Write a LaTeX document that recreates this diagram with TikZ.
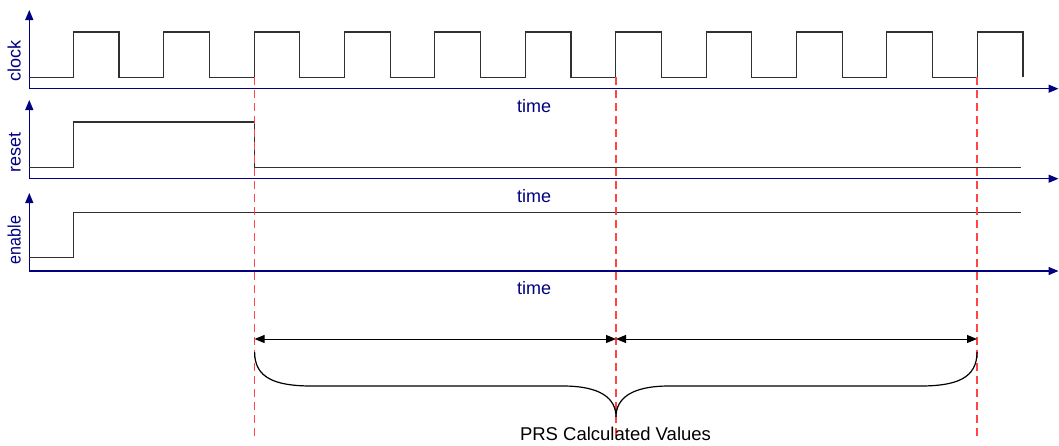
\documentclass[tikz,border=0pt]{standalone}
\usepackage{fontspec}
\setmainfont{Liberation Sans}
\usetikzlibrary{arrows.meta}
\definecolor{axisblue}{HTML}{000080}
\definecolor{guidered}{HTML}{FF4545}
\definecolor{sig}{HTML}{303030}
\tikzset{
  axisline/.style={draw=axisblue, line width=1.3pt, -{Triangle[length=10pt,width=8pt]}},
  signal/.style={draw=sig, line width=1.1pt},
  guide/.style={draw=guidered, line width=1.1pt, dash pattern=on 8pt off 5pt},
  dimarrow/.style={draw=black, line width=1pt, {Triangle[length=10pt,width=8pt]}-{Triangle[length=10pt,width=8pt]}},
  bracepath/.style={draw=black, line width=1.2pt},
  axlabel/.style={font=\fontsize{18}{20}\selectfont, text=axisblue, inner sep=0pt},
  sigtext/.style={font=\fontsize{18}{20}\selectfont, text=axisblue, inner sep=0pt, rotate=90, anchor=base},
  plaintext/.style={font=\fontsize{18.5}{20}\selectfont, text=black, inner sep=0pt, anchor=base}
}
\begin{document}
\begin{tikzpicture}[x=1pt,y=-1pt]
\useasboundingbox (0,0) rectangle (1059,445);
% axes origins and ends
\coordinate (c0) at (29.3,88.7);  \coordinate (ctop) at (29.3,10);  \coordinate (cend) at (1058.5,88.7);
\coordinate (r0) at (29.3,178.7); \coordinate (rtop) at (29.3,100); \coordinate (rend) at (1058.5,178.7);
\coordinate (e0) at (29.3,271);   \coordinate (etop) at (29.3,193); \coordinate (eend) at (1058.5,271);
% axes
\draw[axisline] (c0) -- (ctop);
\draw[axisline] (c0) -- (cend);
\draw[axisline] (r0) -- (rtop);
\draw[axisline] (r0) -- (rend);
\draw[axisline] (e0) -- (etop);
\draw[axisline] (e0) -- (eend);
% axis labels
\node[sigtext] (lclock) at (20.7,61) {clock};
\node[sigtext] (lreset) at (20.7,152) {reset};
\node[sigtext, xscale=0.89] (lenable) at (20.7,240) {enable};
\node[axlabel, anchor=base] (tclock) at (534,112) {time};
\node[axlabel, anchor=base] (treset) at (534,202) {time};
\node[axlabel, anchor=base] (tenable) at (534,294.5) {time};
% clock waveform
\draw[signal] (29.3,77.3)
  \foreach \k in {0,...,10} {
    -- ({73.3+90.4*\k},77.3) -- ({73.3+90.4*\k},32) -- ({119+90.4*\k},32) -- ({119+90.4*\k},77.3)
  };
% reset waveform
\draw[signal] (29.3,167.3) -- (73.3,167.3) -- (73.3,122) -- (254.6,122) -- (254.6,167.3) -- (1021,167.3);
% enable waveform
\draw[signal] (29.3,257.7) -- (73.3,257.7) -- (73.3,212.7) -- (1021,212.7);
% guide lines
\coordinate (g1t) at (254.6,77.3); \coordinate (g1b) at (254.6,440);
\coordinate (g2t) at (616,77.3);   \coordinate (g2b) at (616,440);
\coordinate (g3t) at (977,77.3);   \coordinate (g3b) at (977,440);
\draw[guide] (g1t) -- (g1b);
\draw[guide] (g2t) -- (g2b);
\draw[guide] (g3t) -- (g3b);
% dimension arrows
\coordinate (a1) at (254.6,339); \coordinate (a2) at (616,339); \coordinate (a3) at (977,339);
\draw[dimarrow] (a1) -- (a2);
\draw[dimarrow] (a2) -- (a3);
% brace
\coordinate (bl) at (254.6,352); \coordinate (bm) at (616,417); \coordinate (br) at (977,352);
\draw[bracepath] (bl) .. controls (254.6,378) and (275,386) .. (312,386)
  -- (563,386) .. controls (600,386) and (616,398) .. (bm)
  .. controls (616,398) and (632,386) .. (669,386)
  -- (920,386) .. controls (957,386) and (977,378) .. (br);
\node[plaintext] (prs) at (615.5,440) {PRS Calculated Values};
\end{tikzpicture}
\end{document}
